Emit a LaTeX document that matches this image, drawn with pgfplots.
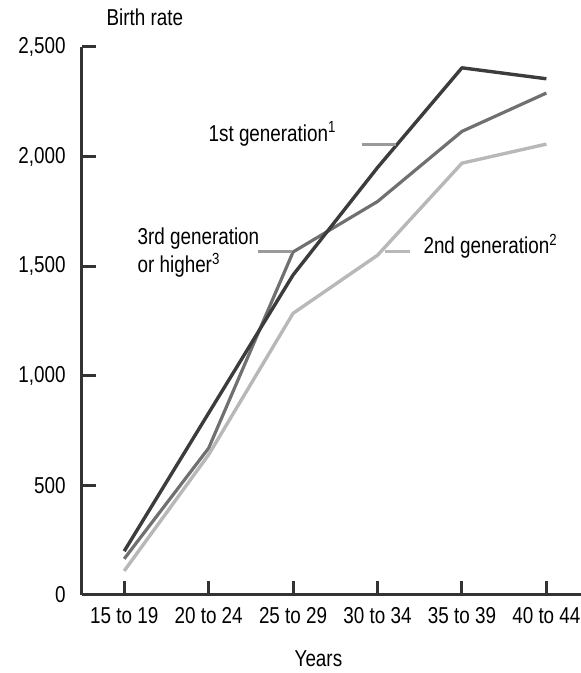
\documentclass[border=0pt]{standalone}
\usepackage{fontspec}
\setmainfont{Liberation Sans}[FakeStretch=0.82]
\usepackage{pgfplots}
\usepackage{pgfplotstable}
\pgfplotsset{compat=1.18}
\newcommand\fs{\fontsize{11.5}{14}\selectfont}
\definecolor{axisgray}{HTML}{333333}
\definecolor{gdark}{HTML}{3C3C3C}
\definecolor{gmid}{HTML}{707070}
\definecolor{glight}{HTML}{B8B8B8}
\definecolor{leader}{HTML}{9A9A9A}

% birth rate by age group: 1st, 3rd+ and 2nd generation
\pgfplotstableread{
x first third second
0 200  165  110
1 830  670  640
2 1460 1565 1285
3 1950 1795 1550
4 2405 2115 1970
5 2355 2290 2057
}\births

\begin{document}
\begin{tikzpicture}[font=\fs]
\useasboundingbox (-41pt,-39pt) rectangle (249.5pt,297.5pt);
\begin{axis}[
  at={(0,0)}, anchor=south west,
  scale only axis=true,
  width=249.5pt, height=274pt,
  xmin=-0.5, xmax=5.41,
  ymin=0, ymax=2500,
  axis lines=left,
  axis line style={-, line width=1.5pt, color=axisgray},
  every tick/.style={line width=1.5pt, color=axisgray},
  major tick length=7pt,
  tick align=inside,
  xtick={0,...,5},
  xticklabels={15 to 19, 20 to 24, 25 to 29, 30 to 34, 35 to 39, 40 to 44},
  ytick={0,500,...,2500},
  /pgf/number format/assume math mode=true,
  /pgf/number format/1000 sep={,},
  ticklabel style={font=\fs},
  xticklabel style={yshift=-2.5pt},
  yticklabel style={xshift=-4.7pt},
  clip=false,
  line join=round,
]
  \addplot[gmid, line width=1.6pt] table[x=x, y=third] {\births};
  \addplot[glight, line width=1.7pt] table[x=x, y=second] {\births};
  \addplot[gdark, line width=1.7pt] table[x=x, y=first] {\births};

  % leader lines
  \draw[leader, line width=1.5pt] (axis cs:2.82,2057) -- (axis cs:3.22,2057);
  \draw[leader, line width=1.5pt] (axis cs:1.59,1565) -- (axis cs:1.99,1565);
  \draw[glight, line width=1.5pt] (axis cs:3.09,1569) -- (axis cs:3.39,1569);

  % labels
  \node[anchor=base west, inner sep=0pt] at (axis cs:0.995,2071) {1st generation\textsuperscript{1}};
  \node[anchor=base west, inner sep=0pt] at (axis cs:0.154,1597) {3rd generation};
  \node[anchor=base west, inner sep=0pt] at (axis cs:0.154,1469) {or higher\textsuperscript{3}};
  \node[anchor=base west, inner sep=0pt] at (axis cs:3.54,1556) {2nd generation\textsuperscript{2}};
  \node[anchor=base west, inner sep=0pt] at (axis cs:-0.213,2600) {Birth rate};
  \node[anchor=base, inner sep=0pt] at (axis cs:2.30,-328) {Years};
\end{axis}
\end{tikzpicture}
\end{document}
